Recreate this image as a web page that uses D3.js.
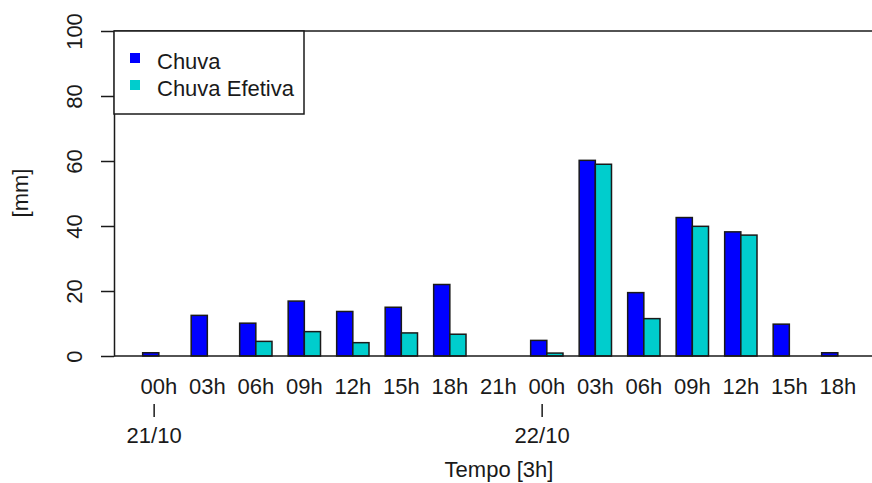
<!DOCTYPE html>
<html>
<head>
<meta charset="utf-8">
<script src="https://cdn.jsdelivr.net/npm/d3@7"></script>
<style>
  body { margin: 0; background: #fff; }
  svg { display: block; font-family: "Liberation Sans", Arial, sans-serif; }
  text { fill: #1a1a1a; }
</style>
</head>
<body>
<div id="chart"></div>
<script>
// values (mm per 3h)
const hours = ["00h", "03h", "06h", "09h", "12h", "15h", "18h", "21h",
               "00h", "03h", "06h", "09h", "12h", "15h", "18h"];
const chuva = [1.0, 12.5, 10.1, 16.9, 13.7, 15.0, 22.0, 0,
               4.8, 60.2, 19.5, 42.6, 38.2, 9.8, 1.0];
const efetiva = [0, 0, 4.5, 7.5, 4.1, 7.1, 6.7, 0,
                 0.9, 59.0, 11.5, 39.9, 37.2, 0, 0];
const days = ["21/10", "22/10"];
const dayStart = [0, 8];
const series = ["Chuva", "Chuva Efetiva"];
const colors = ["#0000ff", "#00cdcd"];
const yTicks = [0, 20, 40, 60, 80, 100];

const width = 872, height = 483;
const plotLeft = 114, plotTop = 31, plotBottom = 356, plotRight = 884;
const ink = "#1a1a1a";

const svg = d3.select("#chart").append("svg")
    .attr("width", width)
    .attr("height", height);

const y = d3.scaleLinear().domain([0, 100]).range([plotBottom, plotTop]);

// each group = one bar width of space + two bars
const x = d3.scaleBand()
    .domain(d3.range(hours.length))
    .range([126.5, 126.5 + 48.5 * hours.length])
    .padding(0);
const bw = x.bandwidth();
const xs = d3.scaleBand().domain(series).range([bw / 3, bw]).padding(0);

const rows = hours.map(function (h, i) {
    return {i: i, values: [chuva[i], efetiva[i]]};
});

svg.append("g")
    .selectAll("g")
    .data(rows)
    .enter().append("g")
    .attr("transform", function (d) { return "translate(" + x(d.i) + ",0)"; })
    .selectAll("rect")
    .data(function (d) { return d.values.map(function (v, k) { return {k: k, v: v}; }); })
    .enter().append("rect")
    .attr("x", function (d) { return xs(series[d.k]); })
    .attr("width", xs.bandwidth())
    .attr("y", function (d) { return y(d.v); })
    .attr("height", function (d) { return y(0) - y(d.v); })
    .attr("fill", function (d) { return colors[d.k]; })
    .attr("stroke", ink)
    .attr("stroke-width", 1.5);

// top and bottom frame lines
svg.append("g").selectAll("line")
    .data([0, 100])
    .enter().append("line")
    .attr("x1", plotLeft).attr("x2", plotRight)
    .attr("y1", function (d) { return y(d); })
    .attr("y2", function (d) { return y(d); })
    .attr("stroke", ink)
    .attr("stroke-width", 1.5);

// y axis, labels turned as in R
const yAxis = svg.append("g")
    .attr("transform", "translate(" + plotLeft + ",0)")
    .call(d3.axisLeft(y).tickValues(yTicks).tickSize(13).tickSizeOuter(0));
yAxis.select(".domain").attr("stroke", ink).attr("stroke-width", 1.5);
yAxis.selectAll(".tick line").attr("stroke", ink).attr("stroke-width", 1.5);
yAxis.selectAll(".tick text")
    .attr("transform", "rotate(-90)")
    .attr("x", 0).attr("y", -32).attr("dy", null)
    .attr("text-anchor", "middle")
    .attr("fill", ink)
    .style("font-size", "22px")
    .style("font-family", "'Liberation Sans', Arial, sans-serif");

// hour labels under each group
svg.append("g").selectAll("text")
    .data(hours)
    .enter().append("text")
    .attr("x", function (d, i) { return x(i) + bw * 2 / 3; })
    .attr("y", 394)
    .attr("text-anchor", "middle")
    .style("font-size", "22px")
    .text(function (d) { return d; });

// day marks
const dayG = svg.append("g").selectAll("g")
    .data(days)
    .enter().append("g")
    .attr("transform", function (d, i) { return "translate(" + (x(dayStart[i]) + bw * 0.57) + ",0)"; });
dayG.append("line")
    .attr("y1", 404).attr("y2", 417)
    .attr("stroke", ink).attr("stroke-width", 1.5);
dayG.append("text")
    .attr("y", 443)
    .attr("text-anchor", "middle")
    .style("font-size", "22px")
    .text(function (d) { return d; });

// axis titles
svg.append("text")
    .attr("x", 499).attr("y", 477)
    .attr("text-anchor", "middle")
    .style("font-size", "22px")
    .text("Tempo [3h]");
svg.append("text")
    .attr("transform", "translate(28,193) rotate(-90)")
    .attr("text-anchor", "middle")
    .style("font-size", "22px")
    .text("[mm]");

// legend
const legend = svg.append("g").attr("class", "legend");
legend.append("rect")
    .attr("x", plotLeft).attr("y", plotTop)
    .attr("width", 304 - plotLeft).attr("height", 114 - plotTop)
    .attr("fill", "#fff")
    .attr("stroke", ink).attr("stroke-width", 1.5);
const item = legend.selectAll(".item")
    .data(series)
    .enter().append("g").attr("class", "item")
    .attr("transform", function (d, i) { return "translate(0," + (i * 27) + ")"; });
item.append("rect")
    .attr("x", 130).attr("y", 53)
    .attr("width", 10).attr("height", 10)
    .attr("fill", function (d, i) { return colors[i]; });
item.append("text")
    .attr("x", 157).attr("y", 68.5)
    .style("font-size", "22px")
    .text(function (d) { return d; });
</script>
</body>
</html>
